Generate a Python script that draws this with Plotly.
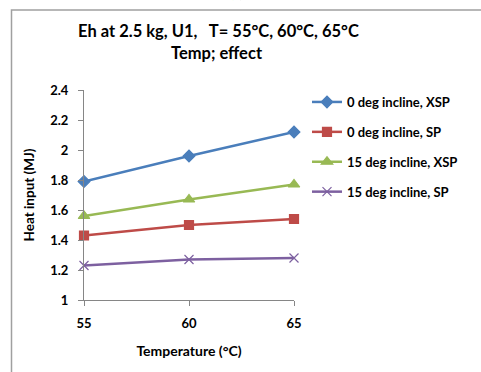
import plotly.graph_objects as go

temps = [55, 60, 65]
xsp_0deg = [1.79, 1.96, 2.12]
sp_0deg = [1.43, 1.50, 1.54]
xsp_15deg = [1.56, 1.67, 1.77]
sp_15deg = [1.23, 1.27, 1.28]

series_names = ["0 deg incline, XSP", "0 deg incline, SP",
                "15 deg incline, XSP", "15 deg incline, SP"]
y_ticks = [1, 1.2, 1.4, 1.6, 1.8, 2, 2.2, 2.4]
y_tick_text = ["1", "1.2", "1.4", "1.6", "1.8", "2", "2.2", "2.4"]
x_ticks = [55, 60, 65]

W, H = 481, 372
L, R, T, B = 84, 294, 90, 300  # plot area in pixels

FONT = "Lato"
styles = [
    dict(color="#4A7EBB", symbol="diamond", size=9),
    dict(color="#BE4B48", symbol="square", size=9),
    dict(color="#98B954", symbol="triangle-up", size=10),
    dict(color="#7D60A0", symbol="x-thin-open", size=9),
]

fig = go.Figure()
for i, (name, vals) in enumerate(zip(series_names,
                                     [xsp_0deg, sp_0deg, xsp_15deg, sp_15deg])):
    st = styles[i]
    fig.add_trace(go.Scatter(
        x=temps, y=vals, name=name, mode="lines+markers",
        legendgroup=str(i),
        line=dict(color=st["color"], width=2.5),
        marker=dict(symbol=st["symbol"], size=st["size"], color=st["color"],
                    line=dict(color=st["color"], width=1.2)),
        cliponaxis=False,
    ))

def px_x(p):
    return (p - L) / (R - L)

def px_y(p):
    return (B - p) / (B - T)

# outer frame; its right and bottom edges run off the page
fig.add_shape(type="rect", xref="paper", yref="paper", layer="below",
              x0=px_x(11.5), x1=px_x(560), y0=px_y(10), y1=px_y(420),
              line=dict(color="#A0A0A0", width=1.5), fillcolor="rgba(0,0,0,0)")

fig.add_annotation(xref="paper", yref="paper", x=px_x(247), y=px_y(3),
                   text="(a)", showarrow=False, yanchor="bottom",
                   font=dict(family="Liberation Serif", size=14, color="#000"))

# two-line chart title
fig.add_annotation(xref="paper", yref="paper", x=px_x(218), y=px_y(31),
                   text="<b>Eh at 2.5 kg, U1,   T= 55°C, 60°C, 65°C</b>",
                   showarrow=False, xanchor="center", yanchor="middle",
                   font=dict(family=FONT, size=16.5, color="#000"))
fig.add_annotation(xref="paper", yref="paper", x=px_x(217), y=px_y(53),
                   text="<b>Temp; effect</b>",
                   showarrow=False, xanchor="center", yanchor="middle",
                   font=dict(family=FONT, size=16.5, color="#000"))

fig.update_layout(
    width=W, height=H,
    margin=dict(l=L, r=W - R, t=T, b=H - B),
    paper_bgcolor="white", plot_bgcolor="white",
    font=dict(family=FONT, color="#000"),
    xaxis=dict(
        range=[55, 65], tickvals=x_ticks, ticks="outside", ticklen=5,
        tickcolor="#868686", showline=True, linecolor="#868686", linewidth=1,
        showgrid=False, zeroline=False, ticklabelstandoff=6,
        tickfont=dict(family=FONT, size=13, color="#000", weight="bold"),
        title=dict(text="<b>Temperature (°C)</b>", standoff=16,
                   font=dict(family=FONT, size=14, color="#000")),
    ),
    yaxis=dict(
        range=[1, 2.4], tickvals=y_ticks, ticktext=y_tick_text,
        ticks="outside", ticklen=5,
        tickcolor="#868686", showline=True, linecolor="#868686", linewidth=1,
        showgrid=False, zeroline=False, ticklabelstandoff=7,
        tickfont=dict(family=FONT, size=13, color="#000", weight="bold"),
        title=dict(text="<b>Heat input (MJ)</b>", standoff=12,
                   font=dict(family=FONT, size=13.5, color="#000")),
    ),
    legend=dict(
        x=px_x(307), y=px_y(87), xanchor="left", yanchor="top",
        font=dict(family=FONT, size=13, color="#000", weight="bold"),
        tracegroupgap=10, itemwidth=30,
        bgcolor="rgba(0,0,0,0)",
    ),
    showlegend=True,
)

fig.write_html("out.html")
